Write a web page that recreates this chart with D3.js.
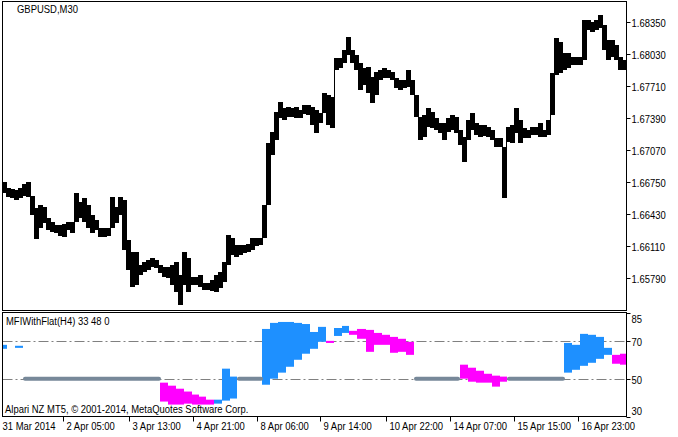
<!DOCTYPE html>
<html>
<head>
<meta charset="utf-8">
<script src="https://cdn.jsdelivr.net/npm/d3@7/dist/d3.min.js"></script>
<style>
  body { margin: 0; background: #fff; }
  svg text { font-family: "Liberation Sans", Arial, sans-serif; font-size: 11px; fill: #000; }
</style>
</head>
<body>
<script>
"use strict"

// GBPUSD M30, one sample every 4 bars (high / low of the group)
const priceHigh = [
  1.6675, 1.6669, 1.6668, 1.6667, 1.6669, 1.6673, 1.6675, 1.6661, 1.6649, 1.6652,
  1.6650, 1.6639, 1.6635, 1.6632, 1.6632, 1.6633, 1.6635, 1.6635, 1.6664, 1.6655,
  1.6659, 1.6652, 1.6642, 1.6637, 1.6629, 1.6629, 1.6629, 1.6660, 1.6650, 1.6660,
  1.6657, 1.6617, 1.6605, 1.6605, 1.6592, 1.6595, 1.6597, 1.6599, 1.6597, 1.6592,
  1.6590, 1.6590, 1.6592, 1.6595, 1.6582, 1.6605, 1.6599, 1.6580, 1.6580, 1.6582,
  1.6574, 1.6574, 1.6577, 1.6582, 1.6585, 1.6595, 1.6622, 1.6619, 1.6612, 1.6612,
  1.6612, 1.6613, 1.6619, 1.6619, 1.6619, 1.6652, 1.6714, 1.6725, 1.6745, 1.6755,
  1.6749, 1.6750, 1.6749, 1.6750, 1.6747, 1.6752, 1.6752, 1.6750, 1.6747, 1.6744,
  1.6764, 1.6762, 1.6760, 1.6799, 1.6799, 1.6807, 1.6820, 1.6807, 1.6802, 1.6794,
  1.6789, 1.6790, 1.6780, 1.6785, 1.6787, 1.6789, 1.6787, 1.6785, 1.6779, 1.6777,
  1.6777, 1.6787, 1.6777, 1.6762, 1.6740, 1.6742, 1.6749, 1.6745, 1.6739, 1.6734,
  1.6734, 1.6739, 1.6742, 1.6740, 1.6727, 1.6720, 1.6737, 1.6744, 1.6734, 1.6732,
  1.6732, 1.6730, 1.6727, 1.6719, 1.6719, 1.6710, 1.6730, 1.6732, 1.6749, 1.6737,
  1.6729, 1.6727, 1.6730, 1.6730, 1.6734, 1.6727, 1.6737, 1.6784, 1.6819, 1.6815,
  1.6804, 1.6804, 1.6800, 1.6800, 1.6800, 1.6837, 1.6837, 1.6835, 1.6837, 1.6842,
  1.6832, 1.6817, 1.6817, 1.6812, 1.6800, 1.6797
]
const priceLow = [
  1.6664, 1.6660, 1.6659, 1.6657, 1.6659, 1.6661, 1.6660, 1.6642, 1.6618, 1.6629,
  1.6634, 1.6627, 1.6625, 1.6624, 1.6621, 1.6620, 1.6627, 1.6624, 1.6635, 1.6639,
  1.6635, 1.6629, 1.6624, 1.6627, 1.6620, 1.6620, 1.6621, 1.6629, 1.6634, 1.6642,
  1.6607, 1.6587, 1.6570, 1.6572, 1.6582, 1.6585, 1.6587, 1.6590, 1.6589, 1.6584,
  1.6580, 1.6579, 1.6572, 1.6565, 1.6552, 1.6572, 1.6565, 1.6572, 1.6572, 1.6570,
  1.6567, 1.6567, 1.6566, 1.6565, 1.6569, 1.6575, 1.6592, 1.6602, 1.6600, 1.6602,
  1.6604, 1.6605, 1.6607, 1.6611, 1.6612, 1.6619, 1.6652, 1.6702, 1.6717, 1.6739,
  1.6737, 1.6740, 1.6740, 1.6739, 1.6739, 1.6743, 1.6742, 1.6732, 1.6724, 1.6734,
  1.6744, 1.6732, 1.6729, 1.6787, 1.6789, 1.6794, 1.6802, 1.6794, 1.6787, 1.6767,
  1.6772, 1.6764, 1.6754, 1.6762, 1.6777, 1.6779, 1.6779, 1.6777, 1.6769, 1.6767,
  1.6769, 1.6770, 1.6762, 1.6740, 1.6717, 1.6720, 1.6730, 1.6729, 1.6727, 1.6724,
  1.6717, 1.6725, 1.6727, 1.6724, 1.6712, 1.6695, 1.6717, 1.6727, 1.6722, 1.6720,
  1.6721, 1.6720, 1.6717, 1.6710, 1.6710, 1.6659, 1.6715, 1.6714, 1.6724, 1.6714,
  1.6719, 1.6719, 1.6722, 1.6722, 1.6720, 1.6720, 1.6722, 1.6742, 1.6782, 1.6784,
  1.6787, 1.6789, 1.6792, 1.6792, 1.6792, 1.6797, 1.6827, 1.6825, 1.6827, 1.6829,
  1.6807, 1.6797, 1.6800, 1.6797, 1.6787, 1.6787
]
const priceTicks = [1.65790, 1.66110, 1.66430, 1.66750, 1.67070, 1.67390, 1.67710, 1.68030, 1.68350]

// time axis, positions in M30 bars
const timeLabels = ["31 Mar 2014", "2 Apr 05:00", "3 Apr 13:00", "4 Apr 21:00", "8 Apr 06:00",
  "9 Apr 14:00", "10 Apr 22:00", "14 Apr 07:00", "15 Apr 15:00", "16 Apr 23:00"]
const timeBars = [0, 64, 130, 194, 258, 321, 387, 451, 515, 579]

// MFIWithFlat(H4) blocks: bar range, upper / lower value, state
const mfiFrom  = [0, 16, 24, 161, 169, 177, 185, 193, 200, 207, 215, 223, 231, 238,
  263, 271, 279, 287, 295, 303, 311, 319, 327, 335, 343, 350, 358, 367, 375, 383, 391, 399, 407,
  415, 461, 469, 477, 485, 493, 501, 508, 565, 573, 581, 589, 597, 605, 613, 621]
const mfiTo    = [8, 24, 162, 169, 177, 185, 193, 200, 207, 215, 223, 231, 238, 264,
  271, 279, 287, 295, 303, 311, 319, 327, 335, 343, 350, 358, 367, 375, 383, 391, 399, 407, 415,
  461, 469, 477, 485, 493, 501, 508, 566, 573, 581, 589, 597, 605, 613, 621, 628]
const mfiHigh  = [67.9, 67.4, 50, 47.9, 46.3, 44.7, 43.2, 41.6, 40.5, 38.9, 38.9, 55.3, 51.1, 50,
  76.3, 79.5, 80.0, 80.0, 79.5, 78.9, 74.7, 77.4, 70.0, 76.8, 77.9, 75.3, 76.3, 75.8, 74.2, 73.2, 72.1, 71.1, 69.5,
  50, 57.4, 55.8, 54.2, 52.6, 51.6, 51.1, 50, 68.9, 67.9, 73.7, 73.2, 72.1, 66.3, 62.6, 63.2]
const mfiLow   = [65.8, 66.3, 50, 37.9, 36.3, 36.3, 36.8, 36.3, 36.3, 36.3, 36.8, 38.4, 39.5, 50,
  46.8, 50.0, 53.2, 56.3, 60.0, 63.2, 65.8, 69.5, 68.9, 72.6, 74.2, 73.2, 71.1, 64.2, 67.9, 67.9, 63.7, 64.2, 62.6,
  50, 50.0, 48.4, 47.9, 47.9, 45.8, 48.4, 50, 53.2, 54.7, 56.8, 58.4, 60.5, 62.6, 57.9, 57.4]
const mfiState = ["up", "up", "flat", "down", "down", "down", "down", "down", "down", "down", "up", "up", "up", "flat",
  "up", "up", "up", "up", "up", "up", "up", "up", "down", "up", "up", "down", "down", "down", "down", "down", "down", "down", "down",
  "flat", "down", "down", "down", "down", "down", "down", "flat", "up", "up", "up", "up", "up", "up", "down", "down"]
const mfiLevels = [70, 50]
const mfiTicks  = [85, 70, 50, 30]

const stateColor = { up : "#1E90FF", down : "#FF00FF", flat : "#778899" }

// layout
const W = 678, H = 437
const left = 2.5, right = 626.5
const main = { top : 1.5, bottom : 310.5 }
const sub  = { top : 312.5, bottom : 416.5 }

const x  = d3.scaleLinear().domain([0, 627]).range([-1, 626])
const y  = d3.scaleLinear().domain([1.6579, 1.6835]).range([278, 22])
const ym = d3.scaleLinear().domain([30, 85]).range([sub.bottom, sub.top])

const svg = d3.select("body").append("svg")
  .attr("width", W)
  .attr("height", H)

// narrow terminal-style text
const label = (g, tx, ty, str) => g.append("text")
  .attr("transform", `translate(${tx} ${ty}) scale(0.86 1)`)
  .text(str)

const defs = svg.append("defs")
defs.append("clipPath").attr("id", "clipMain").append("rect")
  .attr("x", left + 0.5).attr("y", main.top + 0.5)
  .attr("width", right - left - 1).attr("height", main.bottom - main.top - 1)
defs.append("clipPath").attr("id", "clipSub").append("rect")
  .attr("x", left + 0.5).attr("y", sub.top + 0.5)
  .attr("width", right - left - 1).attr("height", sub.bottom - sub.top - 1)

// price bars
const samples = priceHigh.map((hi, k) => ({ bar : 3 + 4 * k, hi, lo : priceLow[k] }))

const gPrice = svg.append("g").attr("clip-path", "url(#clipMain)")

gPrice.selectAll(".bar")
  .data(samples)
  .enter()
  .append("rect")
  .attr("class", "bar")
  .attr("x", d => x(d.bar))
  .attr("width", d => x(d.bar + 4) - x(d.bar))
  .attr("y", d => y(d.hi))
  .attr("height", d => y(d.lo) - y(d.hi))
  .attr("fill", "#000")

// joins between neighbouring samples
gPrice.selectAll(".join")
  .data(samples.slice(1).map((d, k) => ({ bar : d.bar, a : samples[k], b : d })))
  .enter()
  .append("line")
  .attr("class", "join")
  .attr("x1", d => Math.round(x(d.bar)) + 0.5)
  .attr("x2", d => Math.round(x(d.bar)) + 0.5)
  .attr("y1", d => y(Math.max(d.a.hi, d.b.hi)))
  .attr("y2", d => y(Math.min(d.a.lo, d.b.lo)))
  .attr("stroke", "#000")

// indicator
const blocks = mfiFrom.map((from, i) => ({
  from, to : mfiTo[i], hi : mfiHigh[i], lo : mfiLow[i], state : mfiState[i],
}))

const gSub = svg.append("g").attr("clip-path", "url(#clipSub)")

gSub.selectAll(".level")
  .data(mfiLevels)
  .enter()
  .append("line")
  .attr("class", "level")
  .attr("x1", left).attr("x2", right)
  .attr("y1", d => Math.round(ym(d)) + 0.5)
  .attr("y2", d => Math.round(ym(d)) + 0.5)
  .attr("stroke", "#808080")
  .attr("stroke-dasharray", "10,3,2,3")

gSub.selectAll(".block")
  .data(blocks.filter(d => d.state !== "flat"))
  .enter()
  .append("rect")
  .attr("class", "block")
  .attr("x", d => x(d.from))
  .attr("width", d => x(d.to) - x(d.from))
  .attr("y", d => ym(d.hi))
  .attr("height", d => Math.max(1, ym(d.lo) - ym(d.hi)))
  .attr("fill", d => stateColor[d.state])

gSub.selectAll(".flat")
  .data(blocks.filter(d => d.state === "flat"))
  .enter()
  .append("line")
  .attr("class", "flat")
  .attr("x1", d => x(d.from) + 2)
  .attr("x2", d => x(d.to) - 2)
  .attr("y1", d => ym(d.hi))
  .attr("y2", d => ym(d.hi))
  .attr("stroke", stateColor.flat)
  .attr("stroke-width", 4)
  .attr("stroke-linecap", "round")

// frames
const frame = svg.append("g").attr("fill", "none").attr("stroke", "#000")
frame.append("rect").attr("x", left).attr("y", main.top).attr("width", right - left).attr("height", main.bottom - main.top)
frame.append("rect").attr("x", left).attr("y", sub.top).attr("width", right - left).attr("height", sub.bottom - sub.top)

// price axis
const pAxis = svg.append("g")
priceTicks.forEach(p => {
  const py = Math.round(y(p)) + 0.5
  pAxis.append("line").attr("x1", right).attr("x2", right + 4).attr("y1", py).attr("y2", py).attr("stroke", "#000")
  label(pAxis, right + 5, py + 4, p.toFixed(5))
})

// indicator axis
const mAxis = svg.append("g")
mfiTicks.forEach(v => {
  const py = Math.round(ym(v)) + 0.5
  mAxis.append("line").attr("x1", right).attr("x2", right + 4).attr("y1", py).attr("y2", py).attr("stroke", "#000")
  const ty = Math.min(Math.max(py + 4, sub.top + 10), sub.bottom - 2)
  label(mAxis, right + 5, ty, v)
})

// time axis
const tAxis = svg.append("g")
timeBars.forEach((b, i) => {
  const tx = Math.round(x(b)) + 0.5
  tAxis.append("line").attr("x1", tx).attr("x2", tx).attr("y1", sub.bottom).attr("y2", sub.bottom + 5).attr("stroke", "#000")
  label(tAxis, tx + 3, 430, timeLabels[i])
})

// captions
label(svg, 17, 13, "GBPUSD,M30")
label(svg, 6, 325, "MFIWithFlat(H4) 33 48 0")
label(svg, 5, 413, "Alpari NZ MT5, \u00a9 2001-2014, MetaQuotes Software Corp.")
</script>
</body>
</html>
